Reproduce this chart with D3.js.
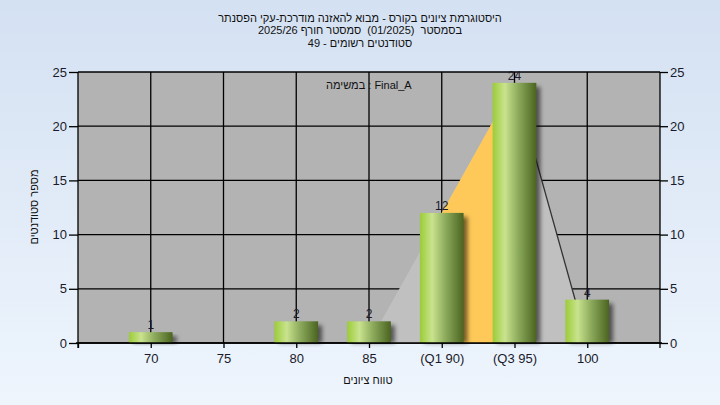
<!DOCTYPE html>
<html><head><meta charset="utf-8">
<script src="https://cdn.jsdelivr.net/npm/d3@7"></script>
<style>
html,body{margin:0;padding:0;}
svg{display:block;}
text{font-family:"Liberation Sans",Arial,sans-serif;white-space:pre;}
</style></head>
<body>
<script>
// ---- data ----
const categories = ["70","75","80","85","(Q1 90)","(Q3 95)","100"];
const counts = [1,0,2,2,12,24,4];
const curveCats = ["85","(Q1 90)","(Q3 95)","100"];
const curveVals = [0,12,24,0];
const quartileCats = ["(Q1 90)","(Q3 95)"];
const yTicks = [0,5,10,15,20,25];
const titleLines = [
  "היסטוגרמת ציונים בקורס - מבוא להאזנה מודרכת-עקי הפסנתר",
  "בסמסטר  (01/2025)  סמסטר חורף 2025/26",
  "סטודנטים רשומים - 49"
];
const legendText = "במשימה : Final_A";
const xTitle = "טווח ציונים";
const yTitle = "מספר סטודנטים";

const W = 720, H = 405;
const L = 78, R = 660, T = 72, B = 343;
const FONT = "Liberation Sans, Arial, sans-serif";

const svg = d3.select("body").append("svg").attr("width", W).attr("height", H);
const defs = svg.append("defs");

const bgG = defs.append("linearGradient").attr("id","bg").attr("x1",0).attr("y1",0).attr("x2",0).attr("y2",1);
bgG.append("stop").attr("offset","0%").attr("stop-color","#d4e1f2");
bgG.append("stop").attr("offset","100%").attr("stop-color","#eef5fd");

const barG = defs.append("linearGradient").attr("id","barg").attr("x1",0).attr("y1",0).attr("x2",1).attr("y2",0);
barG.append("stop").attr("offset","0%").attr("stop-color","#9bcc38");
barG.append("stop").attr("offset","28%").attr("stop-color","#c9e38e");
barG.append("stop").attr("offset","60%").attr("stop-color","#8aa85a");
barG.append("stop").attr("offset","100%").attr("stop-color","#4b6420");

const shadow = defs.append("filter").attr("id","sh").attr("x","-30%").attr("y","-30%").attr("width","160%").attr("height","160%");
shadow.append("feGaussianBlur").attr("stdDeviation",2);

svg.append("rect").attr("width",W).attr("height",H).attr("fill","url(#bg)");

const x = d3.scaleLinear().domain([0, categories.length + 1]).range([L, R]);
const xc = c => x(categories.indexOf(c) + 1);
const y = d3.scaleLinear().domain([0, 25]).range([B, T]);
const bw = (x(1) - x(0)) * 0.6;

// plot background
svg.append("rect").attr("x",L).attr("y",T).attr("width",R-L).attr("height",B-T).attr("fill","#b3b3b3");

// grid
const grid = svg.append("g").attr("stroke","#000").attr("stroke-width",1.3);
yTicks.forEach(t => grid.append("line").attr("x1",L).attr("x2",R).attr("y1",y(t)).attr("y2",y(t)));
categories.forEach(c => grid.append("line").attr("x1",xc(c)).attr("x2",xc(c)).attr("y1",T).attr("y2",B));

// curve area
const curvePts = curveCats.map((c,i)=>({x:xc(c), v:curveVals[i]}));
const area = d3.area().x(d=>d.x).y0(y(0)).y1(d=>y(d.v));
svg.append("path").attr("d", area(curvePts)).attr("fill","#c0c0c0");
const qPts = curvePts.filter((d,i)=>quartileCats.includes(curveCats[i]));
svg.append("path").attr("d", area(qPts)).attr("fill","#fec958");
const last2 = curvePts.slice(-2);
svg.append("path").attr("d", d3.line().x(d=>d.x).y(d=>y(d.v))(last2))
  .attr("fill","none").attr("stroke","#333").attr("stroke-width",1.3);

// bars
const bars = svg.append("g");
categories.forEach((c,i) => {
  if (counts[i] <= 0) return;
  const x0 = xc(c) - bw/2, y0 = y(counts[i]), h = y(0) - y(counts[i]);
  bars.append("rect").attr("x",x0+4).attr("y",y0+4).attr("width",bw).attr("height",h-4)
    .attr("fill","rgba(0,0,0,0.55)").attr("filter","url(#sh)");
});
categories.forEach((c,i) => {
  if (counts[i] <= 0) return;
  const x0 = xc(c) - bw/2, y0 = y(counts[i]), h = y(0) - y(counts[i]);
  bars.append("rect").attr("x",x0).attr("y",y0).attr("width",bw).attr("height",h).attr("fill","url(#barg)");
});
categories.forEach((c,i) => {
  if (counts[i] <= 0) return;
  svg.append("text").attr("x",xc(c)).attr("y",y(counts[i]) - 3).attr("text-anchor","middle")
    .attr("font-size",12).attr("fill","#1a1a2a").text(counts[i]);
});

// axes
const ax = svg.append("g").attr("stroke","#000").attr("stroke-width",1.3);
ax.append("line").attr("x1",L).attr("x2",L).attr("y1",T).attr("y2",B+5);
ax.append("line").attr("x1",R).attr("x2",R).attr("y1",T).attr("y2",B+5);
ax.append("line").attr("x1",L-2).attr("x2",R+2).attr("y1",B).attr("y2",B);

const yl = svg.append("g").attr("transform",`translate(${L},0)`).call(d3.axisLeft(y).tickValues(yTicks).tickSize(9).tickPadding(2));
const yr = svg.append("g").attr("transform",`translate(${R},0)`).call(d3.axisRight(y).tickValues(yTicks).tickSize(8).tickPadding(2));
const xb = svg.append("g").attr("transform",`translate(0,${B})`)
  .call(d3.axisBottom(x).tickValues(d3.range(0, categories.length+1)).tickSize(5).tickPadding(6)
  .tickFormat(i => i >= 1 && i <= categories.length ? categories[i-1] : ""));
[yl,yr,xb].forEach(g => {
  g.select(".domain").remove();
  g.selectAll("line").attr("stroke","#000").attr("stroke-width",1.3);
  g.selectAll("text").attr("font-family",FONT).attr("font-size",13).attr("fill","#1a1a2a");
});

// titles
titleLines.forEach((t,i) => {
  svg.append("text").attr("x",360).attr("y",21.5 + i*12.5).attr("text-anchor","middle")
    .attr("direction","rtl").attr("font-size",11).attr("fill","#111").text(t);
});
svg.append("text").attr("x",326).attr("y",89).attr("font-size",11).attr("fill","#111").text(legendText);
svg.append("text").attr("x",368).attr("y",384).attr("text-anchor","middle").attr("direction","rtl")
  .attr("font-size",11).attr("fill","#111").text(xTitle);
svg.append("text").attr("transform","translate(38,207) rotate(-90)").attr("text-anchor","middle").attr("direction","rtl")
  .attr("font-size",11).attr("fill","#111").text(yTitle);
</script>
</body></html>
